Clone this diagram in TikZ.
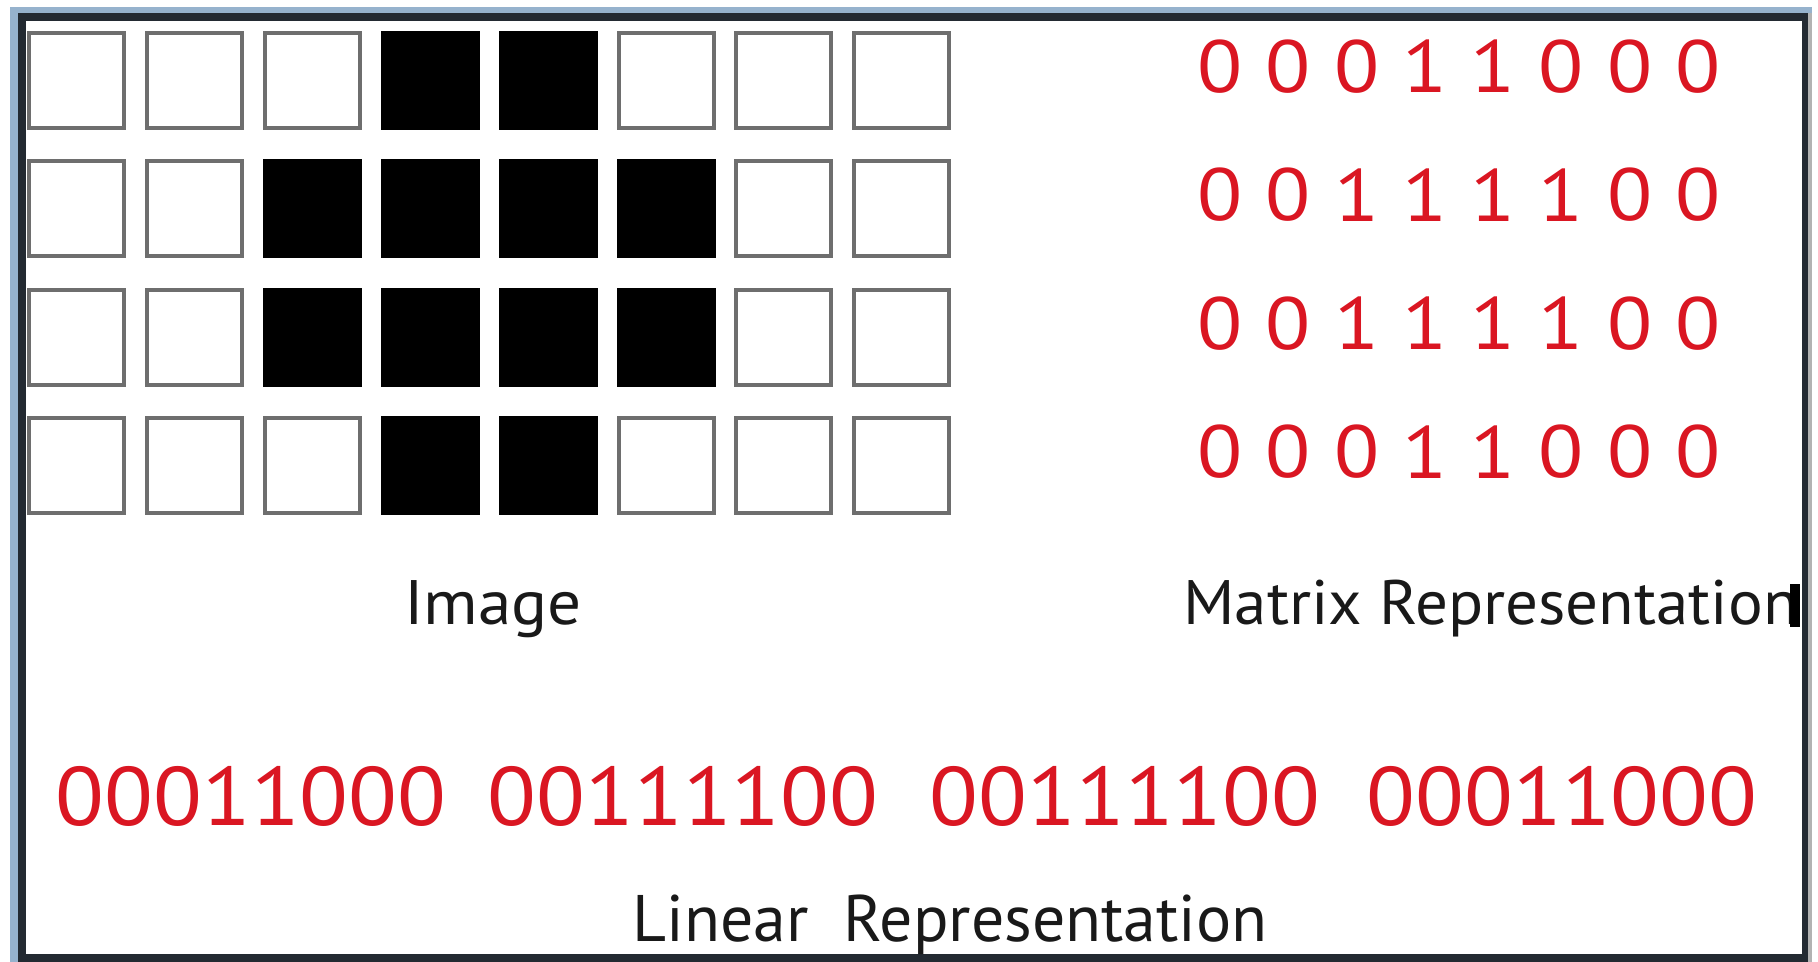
\documentclass[tikz,border=0pt]{standalone}
\usepackage{fontspec}
\setmainfont{PT Sans}
\definecolor{digred}{RGB}{218,22,34}
\definecolor{boxgray}{RGB}{110,110,110}
\definecolor{framedark}{RGB}{35,42,50}
\definecolor{frameblue}{RGB}{150,178,205}
\definecolor{txt}{RGB}{25,25,25}
\tikzset{
  cellw/.style={draw=boxgray, line width=2, fill=white, minimum width=47.5pt, minimum height=47.5pt, anchor=north west, inner sep=0},
  cellb/.style={cellw, draw=black, fill=black},
  mdig/.style={text=digred, font=\fontsize{37}{37}\selectfont, inner sep=0, anchor=center},
  ldig/.style={text=digred, font=\fontsize{41.5}{41.5}\selectfont, inner sep=0, anchor=center},
  lbl/.style={text=txt, font=\fontsize{31.4}{31.4}\selectfont, inner sep=0, anchor=base},
  lbll/.style={text=txt, font=\fontsize{32.9}{32.9}\selectfont, inner sep=0, anchor=base},
}
\begin{document}
\begin{tikzpicture}[x=0.5pt,y=-0.5pt]
\useasboundingbox (0,0) rectangle (1818,962);
\fill[white] (0,0) rectangle (1818,962);
% frame
\fill[frameblue] (10,7) rectangle (18,962);
\fill[frameblue] (10,7) rectangle (1812,13);
\draw[framedark, line width=4] (22,17) rectangle (1806,958);
\draw[gray!60, line width=2] (1810,13) -- (1810,962);
% grid and matrix
\foreach \r/\pat in {0/{0,0,0,1,1,0,0,0},1/{0,0,1,1,1,1,0,0},2/{0,0,1,1,1,1,0,0},3/{0,0,0,1,1,0,0,0}}{
  \foreach \v [count=\c from 0] in \pat {
    \pgfmathsetmacro{\xl}{27+117.9*\c}
    \pgfmathsetmacro{\yt}{31+128.3*\r}
    \ifnum\v=1
      \node[cellb] (g-\r-\c) at (\xl,\yt) {};
    \else
      \node[cellw] (g-\r-\c) at (\xl,\yt) {};
    \fi
    \node[mdig] (m-\r-\c) at ({1220+68.3*\c},{66.5+128.5*\r}) {\scalebox{1.12}[1]{\v}};
  }
}
% labels
\node[lbl] (img) at (493,624) {\scalebox{1.07}[1]{Image}};
\node[lbl] (mat) at (1491,624) {\scalebox{1.035}[1]{Matrix Representation}};
\fill[black] (1790,584) rectangle (1800,627);
% linear
\node[ldig] (l0) at (251,796) {\scalebox{1.08}[1]{00011000}};
\node[ldig] (l1) at (683,796) {\scalebox{1.08}[1]{00111100}};
\node[ldig] (l2) at (1125,796) {\scalebox{1.08}[1]{00111100}};
\node[ldig] (l3) at (1562,796) {\scalebox{1.08}[1]{00011000}};
\node[lbll] (lin) at (950,941) {Linear\ \ Representation};
\end{tikzpicture}
\end{document}
